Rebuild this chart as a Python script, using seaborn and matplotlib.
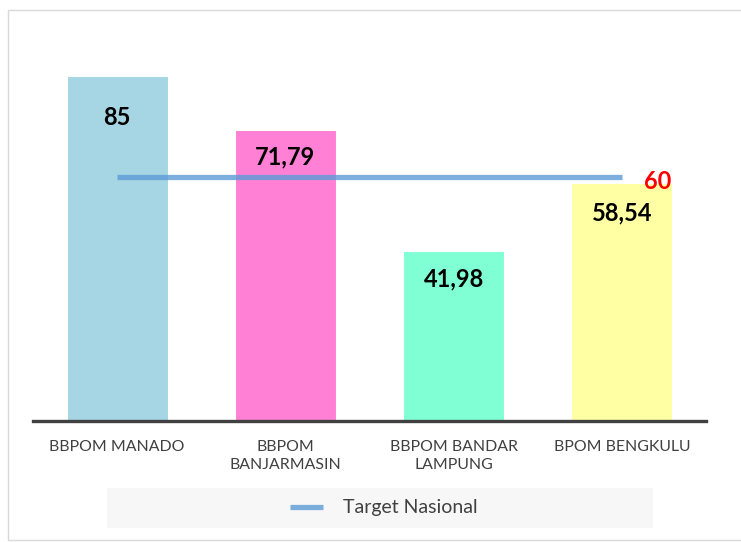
import pandas as pd
import seaborn as sns
import matplotlib.pyplot as plt
from matplotlib.lines import Line2D
from matplotlib.patches import Rectangle

# data
categories = ["BBPOM MANADO", "BBPOM\nBANJARMASIN", "BBPOM BANDAR\nLAMPUNG", "BPOM BENGKULU"]
values = [85, 71.79, 41.98, 58.54]
value_labels = ["85", "71,79", "41,98", "58,54"]
target = 60
target_label = "60"

bar_colors = ["#A6D5E3", "#FF80D5", "#80FFD5", "#FFFFA3"]
label_drop = [42, 27, 28, 30]  # px below bar top where the value sits

sns.set_theme(style="white")
plt.rcParams["font.family"] = ["Lato", "DejaVu Sans"]

df = pd.DataFrame({"lokasi": categories, "nilai": values})

fig = plt.figure(figsize=(7.41, 5.42), dpi=100)
ax = fig.add_axes([33 / 741, 1 - 421 / 542, 673 / 741, 95 * 4.06 / 542])

sns.barplot(data=df, x="lokasi", y="nilai", hue="lokasi", palette=bar_colors, saturation=1,
            width=0.6, legend=False, ax=ax, edgecolor="white", linewidth=0.8)

# national target line, bar1 centre to bar4 centre
ax.plot(range(len(categories)), [target] * len(categories), color="#5B9BD5",
        alpha=0.8, linewidth=3.8, solid_capstyle="butt", zorder=5)
ax.annotate(target_label, (len(categories) - 1, target), xytext=(16, -3),
            textcoords="offset points", color="#FF0000", fontsize=17,
            fontweight="bold", va="center", ha="left", zorder=6)

for i, (v, lab) in enumerate(zip(values, value_labels)):
    ax.annotate(lab, (i, v), xytext=(0, -label_drop[i] * 0.72), textcoords="offset points",
                ha="center", va="center", fontsize=17, fontweight="bold", color="black", zorder=6)

ax.set_ylim(0, 95)
ax.set_xlim(-0.5, len(categories) - 0.5)
ax.set_xlabel("")
ax.set_ylabel("")
ax.set_yticks([])
ax.tick_params(axis="x", length=0, pad=14, labelsize=11.4, labelcolor="#404040")
for t in ax.get_xticklabels():
    t.set_linespacing(1.35)
for s in ["top", "left", "right"]:
    ax.spines[s].set_visible(False)
ax.spines["bottom"].set_color("#404040")
ax.spines["bottom"].set_linewidth(2.4)
ax.spines["bottom"].set_zorder(7)

# chart border and legend backdrop
fig.patches.append(Rectangle((8 / 741, 2 / 542), 1.0, 530 / 542, transform=fig.transFigure,
                             fill=False, edgecolor="#D9D9D9", linewidth=1.0))
fig.patches.append(Rectangle((107 / 741, 1 - 528 / 542), 546 / 741, 40 / 542,
                             transform=fig.transFigure, facecolor="#F7F7F7", edgecolor="none"))

handle = Line2D([], [], color="#5B9BD5", alpha=0.8, linewidth=3.8, solid_capstyle="butt")
fig.legend([handle], ["Target Nasional"], loc="center", bbox_to_anchor=(384 / 741, 1 - 508 / 542),
           frameon=False, fontsize=14, handlelength=1.7, handletextpad=1.0, labelcolor="#404040")

fig.savefig("out.png", dpi=100)
